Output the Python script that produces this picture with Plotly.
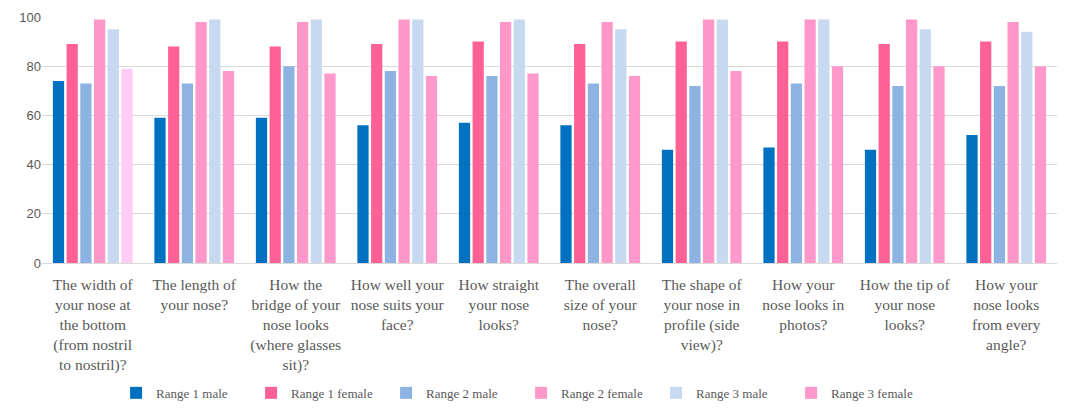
import plotly.graph_objects as go

categories = [
    "The width of<br>your nose at<br>the bottom<br>(from nostril<br>to nostril)?",
    "The length of<br>your nose?",
    "How the<br>bridge of your<br>nose looks<br>(where glasses<br>sit)?",
    "How well your<br>nose suits your<br>face?",
    "How straight<br>your nose<br>looks?",
    "The overall<br>size of your<br>nose?",
    "The shape of<br>your nose in<br>profile (side<br>view)?",
    "How your<br>nose looks in<br>photos?",
    "How the tip of<br>your nose<br>looks?",
    "How your<br>nose looks<br>from every<br>angle?",
]

range1_male = [74, 59, 59, 56, 57, 56, 46, 47, 46, 52]
range1_female = [89, 88, 88, 89, 90, 89, 90, 90, 89, 90]
range2_male = [73, 73, 80, 78, 76, 73, 72, 73, 72, 72]
range2_female = [99, 98, 98, 99, 98, 98, 99, 99, 99, 98]
range3_male = [95, 99, 99, 99, 99, 95, 99, 99, 95, 94]
range3_female = [79, 78, 77, 76, 77, 76, 78, 80, 80, 80]

series = [
    ("Range 1 male", range1_male, "#0070C0"),
    ("Range 1 female", range1_female, "#FF6196"),
    ("Range 2 male", range2_male, "#8DB3E2"),
    ("Range 2 female", range2_female, "#FF97C9"),
    ("Range 3 male", range3_male, "#C6D9F0"),
    ("Range 3 female", range3_female, "#FF99CC"),
]

fig = go.Figure()
for i, (name, vals, col) in enumerate(series):
    colors = [col] * len(vals)
    special = name == "Range 3 female"
    if special:
        colors[0] = "#FFCCF5"
    fig.add_trace(go.Bar(name=name, x=categories, y=vals, offsetgroup=str(i),
                         marker=dict(color=colors, line=dict(width=0)),
                         showlegend=not special, legendrank=i + 1))
    if special:
        # legend entry with the series' main colour
        fig.add_trace(go.Bar(name=name, x=[categories[0]], y=[None], offsetgroup=str(i),
                             marker=dict(color=col, line=dict(width=0)),
                             showlegend=True, legendrank=i + 1, hoverinfo="skip"))

fig.update_layout(
    width=1057, height=410,
    barmode="group", bargap=0.19, bargroupgap=0.18,
    plot_bgcolor="white", paper_bgcolor="white",
    margin=dict(l=34, r=8, t=9, b=155),
    font=dict(family="Liberation Serif", color="#595959"),
    showlegend=True,
    legend=dict(orientation="h", x=0.472, xanchor="center", y=-0.528, yanchor="middle",
                font=dict(family="Liberation Serif", size=13, color="#595959"),
                entrywidth=90, itemwidth=30, traceorder="normal"),
    xaxis=dict(tickfont=dict(family="Liberation Serif", size=15.5, color="#595959"),
               showline=True, linecolor="#D9D9D9", ticks="", tickangle=0,
               automargin=False, ticklabelstandoff=7),
    yaxis=dict(range=[0, 100], dtick=20, showgrid=True, gridcolor="#D9D9D9",
               zeroline=False, ticks="", ticklen=0, automargin=False,
               tickfont=dict(family="Liberation Sans", size=13, color="#595959")),
)

fig.write_html("out.html")
